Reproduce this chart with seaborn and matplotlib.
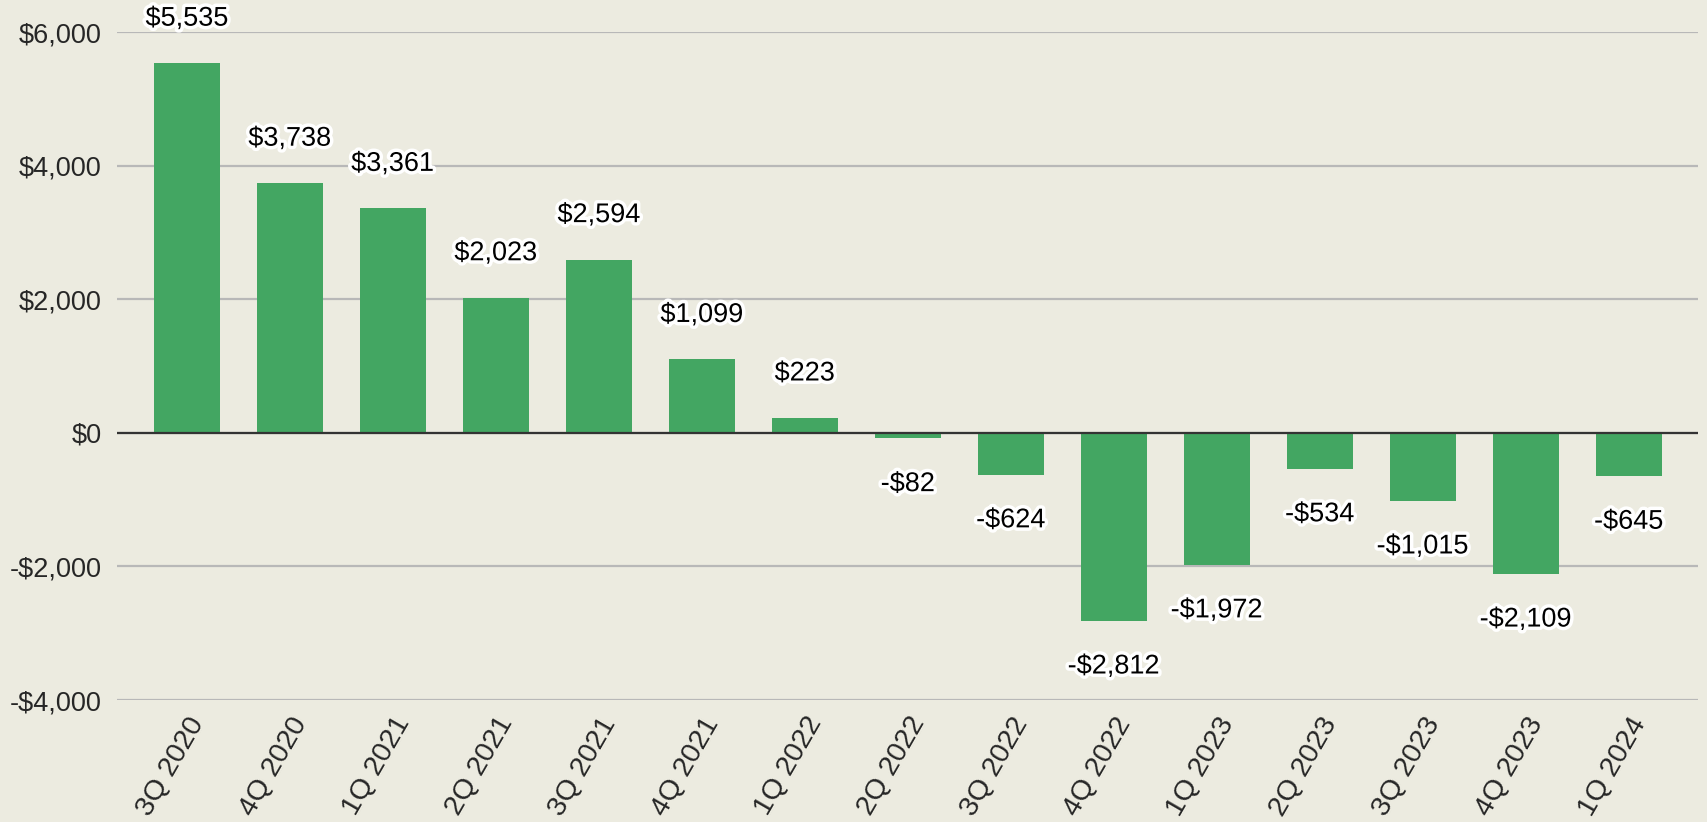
import pandas as pd
import seaborn as sns
import matplotlib.pyplot as plt
import matplotlib.patheffects as pe
from matplotlib.ticker import FuncFormatter

# Quartalswerte
quarters = ['3Q 2020', '4Q 2020', '1Q 2021', '2Q 2021', '3Q 2021', '4Q 2021',
            '1Q 2022', '2Q 2022', '3Q 2022', '4Q 2022', '1Q 2023', '2Q 2023',
            '3Q 2023', '4Q 2023', '1Q 2024']
values = [5535, 3738, 3361, 2023, 2594, 1099, 223, -82, -624, -2812,
          -1972, -534, -1015, -2109, -645]

df = pd.DataFrame({'quarter': quarters, 'value': values})

bg = '#ECEBE0'
green = '#43A662'

sns.set_style('white')
plt.rcParams['font.family'] = ['Liberation Sans', 'DejaVu Sans']

fig = plt.figure(figsize=(17.08, 8.22), dpi=100, facecolor=bg)
ax = fig.add_axes([0.0685, 0.1484, 0.9255, 0.8126])
ax.set_facecolor(bg)

sns.barplot(data=df, x='quarter', y='value', color=green, width=0.64,
            saturation=1, linewidth=0, ax=ax, zorder=3)

ax.set_xlim(-0.68, len(quarters) - 1 + 0.67)
ax.set_ylim(-4000, 6000)
ax.set_yticks(range(-4000, 6001, 2000))
ax.yaxis.set_major_formatter(FuncFormatter(
    lambda v, _: f'-${abs(v):,.0f}' if v < 0 else f'${v:,.0f}'))

ax.grid(axis='y', color='#B8B8B8', linewidth=1.6, zorder=0)
ax.axhline(0, color='#333333', linewidth=1.6, zorder=4)
for s in ax.spines.values():
    s.set_visible(False)

ax.tick_params(axis='y', length=0, pad=11, labelsize=19.5)
ax.tick_params(axis='x', length=0, pad=9, labelsize=20.5)
for lbl in ax.get_xticklabels():
    lbl.set_rotation(60)
    lbl.set_ha('right')
    lbl.set_rotation_mode('anchor')
ax.set_xlabel('')
ax.set_ylabel('')

# Beschriftungen mit weißem Rand
for i, v in enumerate(values):
    txt = f'-${abs(v):,}' if v < 0 else f'${v:,}'
    off = 32 if v >= 0 else -33
    ax.annotate(txt, (i, v), xytext=(0, off), textcoords='offset points',
                ha='center', va='center', fontsize=19.5, color='black', zorder=6,
                path_effects=[pe.withStroke(linewidth=5, foreground='white')])

plt.savefig('out.png', facecolor=bg)
